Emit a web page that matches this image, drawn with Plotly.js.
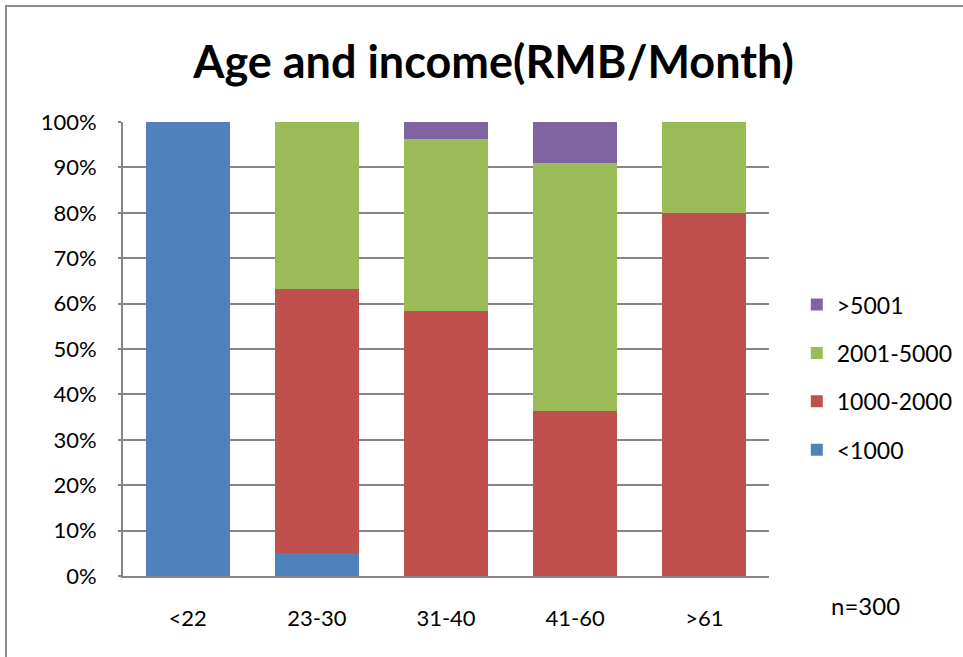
<!DOCTYPE html>
<html>
<head>
<meta charset="utf-8">
<script src="https://cdn.plot.ly/plotly-3.0.1.min.js"></script>
<style>
html,body{margin:0;padding:0;overflow:hidden;background:#fff;}
#frame{position:absolute;left:5px;top:5px;width:1000px;height:700px;border:2px solid #8c8c8c;box-sizing:border-box;pointer-events:none;z-index:5;}
#chart{position:absolute;left:0;top:0;width:963px;height:657px;}
</style>
</head>
<body>
<div id="chart"></div>
<div id="frame"></div>
<script>
const categories = ["<22", "23-30", "31-40", "41-60", ">61"];
const seriesNames = ["<1000", "1000-2000", "2001-5000", ">5001"];
const lt1000 = [100, 5, 0, 0, 0];
const r1000_2000 = [0, 58.2, 58.3, 36.3, 80];
const r2001_5000 = [0, 36.8, 37.9, 54.6, 20];
const gt5001 = [0, 0, 3.8, 9.1, 0];
const colors = ["#4f81bd", "#c0504d", "#9bbb59", "#8064a2"];
const values = [lt1000, r1000_2000, r2001_5000, gt5001];
const yTickVals = [0,10,20,30,40,50,60,70,80,90,100];
const yTickText = ["0%","10%","20%","30%","40%","50%","60%","70%","80%","90%","100%"];

const font = "Lato, 'Liberation Sans', Arial, sans-serif";
const traces = seriesNames.map((name, i) => ({
  type: "bar",
  name: name,
  x: categories,
  y: values[i],
  marker: {color: colors[i], line: {width: 0}},
  legendgroup: "g" + i,
  legendrank: seriesNames.length - i,
  hoverinfo: "x+y+name"
}));

const layout = {
  width: 963, height: 657,
  margin: {l: 123, r: 194, t: 122, b: 81, autoexpand: false},
  paper_bgcolor: "#fff", plot_bgcolor: "#fff",
  barmode: "stack",
  bargap: 0.35,
  title: {text: "<b>Age and income(RMB/Month)</b>", font: {family: font, size: 45, color: "#000"}, x: 0.5125, xanchor: "center", y: 0.905, yanchor: "middle"},
  xaxis: {
    type: "category",
    showline: true, linecolor: "#868686", linewidth: 2,
    showgrid: false, ticks: "",
    tickfont: {family: font, size: 22, color: "#000"},
    ticklabelstandoff: 22
  },
  yaxis: {
    range: [0, 100],
    tickvals: yTickVals, ticktext: yTickText,
    showline: true, linecolor: "#868686", linewidth: 2,
    showgrid: true, gridcolor: "#868686", gridwidth: 2,
    ticks: "outside", ticklen: 3, tickcolor: "#868686", tickwidth: 2,
    tickfont: {family: font, size: 22, color: "#000"},
    ticklabelstandoff: 17,
    zeroline: false, fixedrange: true
  },
  showlegend: true,
  legend: {
    traceorder: "grouped",
    tracegroupgap: 15.5,
    x: 1.043, xanchor: "left", y: 0.437, yanchor: "middle",
    font: {family: font, size: 23, color: "#000"},
    itemwidth: 30
  },
  annotations: [{
    text: "n=300", xref: "paper", yref: "paper", x: 1.149, y: -0.065,
    xanchor: "center", yanchor: "middle", showarrow: false,
    font: {family: font, size: 24, color: "#000"}
  }]
};

Plotly.newPlot("chart", traces, layout, {displayModeBar: false});
</script>
</body>
</html>
